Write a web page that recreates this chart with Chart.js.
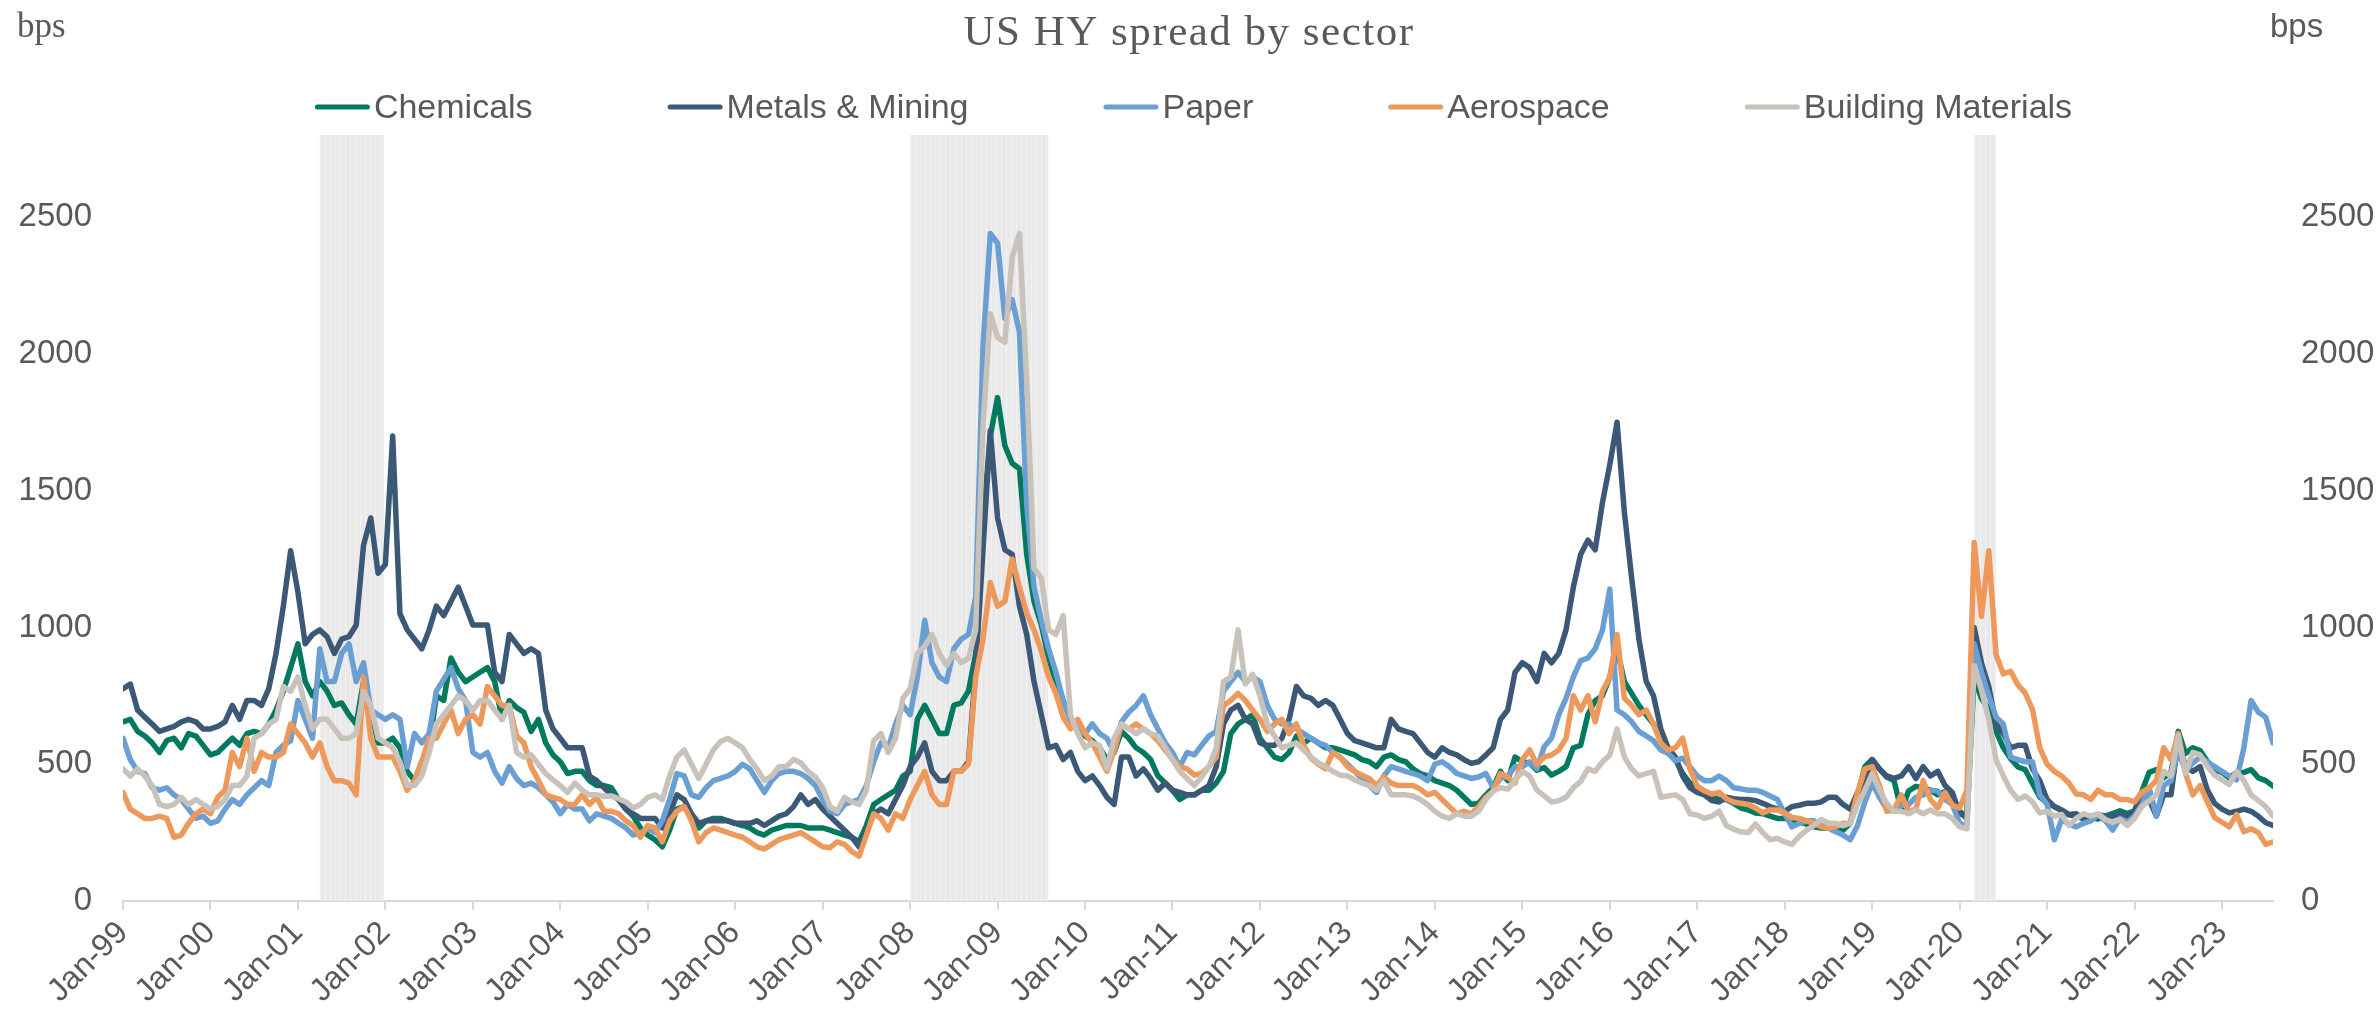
<!DOCTYPE html>
<html>
<head>
<meta charset="utf-8">
<title>US HY spread by sector</title>
<script src="https://cdn.jsdelivr.net/npm/chart.js@4.4.0/dist/chart.umd.min.js"></script>
<style>
  html, body { margin: 0; padding: 0; background: #ffffff; }
  #wrap { width: 2379px; height: 1019px; position: relative; }
</style>
</head>
<body>
<div id="wrap"><canvas id="chartSpread"></canvas></div>
<script>
// Monthly spreads (bps), Jan-99 .. Aug-23
const startYear = 1999;

const chemicals = [
  655, 664, 620, 603, 578, 543, 586, 595, 560, 612, 603, 569,
  534, 543, 569, 595, 569, 612, 620, 612, 647, 698, 767, 853,
  940, 802, 750, 802, 767, 715, 724, 681, 647, 802, 698, 578,
  578, 595, 560, 474, 440, 509, 560, 750, 733, 888, 836, 802,
  819, 836, 853, 802, 664, 733, 707, 690, 620, 664, 578, 534,
  509, 466, 474, 474, 440, 422, 422, 414, 371, 336, 310, 267,
  241, 224, 198, 259, 336, 345, 302, 267, 293, 302, 302, 293,
  284, 276, 267, 250, 241, 259, 267, 276, 276, 276, 267, 267,
  267, 259, 250, 241, 233, 216, 276, 353, 371, 388, 405, 457,
  474, 664, 715, 664, 612, 612, 715, 724, 767, 905, 1388, 1700,
  1840, 1664, 1600, 1580, 1267, 1095, 1009, 888, 802, 733, 664, 647,
  603, 586, 560, 517, 543, 620, 595, 560, 543, 517, 457, 431,
  405, 371, 388, 388, 405, 405, 431, 474, 612, 647, 664, 681,
  595, 560, 526, 517, 543, 603, 578, 595, 578, 560, 560, 552,
  543, 534, 517, 509, 491, 526, 534, 517, 509, 483, 466, 457,
  440, 431, 422, 405, 379, 353, 357, 388, 414, 474, 440, 526,
  509, 505, 478, 488, 460, 474, 491, 560, 569, 681, 733, 750,
  819, 922, 802, 759, 715, 681, 647, 586, 555, 517, 466, 431,
  419, 402, 384, 371, 371, 357, 340, 333, 322, 319, 310, 302,
  302, 298, 288, 281, 271, 267, 267, 264, 259, 284, 388, 491,
  517, 483, 453, 440, 330, 402, 419, 414, 405, 388, 400, 380,
  330, 300, 820, 740, 700, 620, 560, 520, 490, 480, 430, 380,
  360, 345, 330, 315, 310, 300, 305, 300, 310, 320, 330, 320,
  330, 400, 470, 480, 450, 470, 620, 540, 560, 550, 510, 480,
  470, 450, 470, 470, 480, 450, 440, 420
];

const metalsMining = [
  776, 793, 698, 672, 647, 620, 629, 638, 655, 664, 655, 629,
  629, 638, 655, 715, 664, 733, 733, 715, 776, 905, 1078, 1280,
  1129, 940, 974, 991, 966, 905, 957, 966, 1009, 1300, 1400, 1198,
  1230, 1700, 1050, 991, 957, 922, 991, 1078, 1043, 1095, 1147, 1078,
  1009, 1009, 1009, 836, 802, 974, 940, 905, 922, 905, 698, 629,
  595, 560, 560, 560, 457, 440, 414, 388, 371, 336, 319, 302,
  302, 302, 267, 319, 388, 371, 319, 284, 293, 293, 293, 293,
  284, 284, 284, 293, 276, 293, 310, 319, 345, 388, 353, 371,
  336, 310, 284, 259, 233, 198, 250, 319, 336, 319, 371, 422,
  491, 526, 578, 474, 440, 440, 474, 474, 509, 850, 1284, 1720,
  1400, 1284, 1267, 1078, 974, 802, 681, 560, 569, 517, 543, 474,
  440, 457, 422, 379, 353, 526, 526, 457, 483, 448, 405, 431,
  405, 397, 388, 388, 405, 422, 491, 647, 698, 715, 664, 647,
  578, 569, 569, 595, 664, 784, 750, 741, 715, 733, 715, 664,
  612, 586, 578, 569, 560, 560, 664, 629, 620, 612, 578, 543,
  526, 560, 543, 534, 517, 503, 509, 534, 560, 664, 698, 836,
  871, 853, 802, 905, 871, 905, 991, 1147, 1267, 1319, 1284, 1457,
  1595, 1750, 1422, 1181, 957, 802, 750, 629, 560, 526, 457, 414,
  397, 388, 367, 362, 379, 374, 371, 371, 367, 357, 345, 336,
  328, 345, 350, 357, 357, 362, 379, 379, 353, 336, 397, 414,
  517, 483, 457, 448, 457, 491, 448, 491, 457, 474, 422, 397,
  319, 310, 1000, 870, 784, 647, 612, 560, 569, 569, 483, 440,
  371, 345, 333, 316, 319, 302, 302, 316, 310, 310, 319, 310,
  328, 379, 371, 310, 388, 388, 586, 491, 474, 491, 405, 357,
  336, 322, 328, 336, 328, 310, 286, 276
];

const paper = [
  595, 517, 474, 466, 414, 405, 414, 388, 371, 336, 302, 310,
  284, 293, 336, 371, 353, 388, 414, 440, 422, 543, 569, 586,
  733, 664, 595, 922, 802, 802, 905, 940, 802, 871, 698, 681,
  664, 681, 664, 491, 612, 578, 612, 767, 810, 853, 776, 733,
  543, 526, 543, 474, 431, 491, 448, 422, 431, 414, 388, 362,
  319, 353, 336, 336, 293, 319, 310, 302, 284, 267, 241, 250,
  267, 250, 293, 371, 466, 457, 388, 379, 414, 440, 448, 457,
  474, 500, 483, 440, 397, 440, 466, 474, 474, 466, 448, 422,
  371, 328, 319, 353, 362, 371, 422, 509, 578, 560, 647, 715,
  681, 819, 1026, 871, 819, 802, 922, 957, 974, 1112, 2026, 2440,
  2405, 2129, 2198, 2080, 1450, 1147, 1026, 922, 836, 733, 664, 629,
  612, 647, 612, 595, 543, 655, 690, 715, 750, 681, 629, 578,
  543, 491, 543, 534, 569, 603, 620, 767, 802, 836, 802, 819,
  802, 715, 664, 647, 647, 629, 612, 595, 578, 569, 543, 526,
  500, 474, 448, 422, 397, 457, 491, 483, 474, 466, 457, 440,
  500, 509, 491, 466, 457, 448, 453, 466, 414, 448, 457, 491,
  491, 509, 483, 564, 595, 681, 741, 819, 879, 888, 922, 991,
  1140, 698, 681, 655, 620, 603, 586, 552, 540, 512, 522, 491,
  457, 440, 440, 457, 440, 414, 410, 405, 405, 397, 384, 371,
  319, 271, 284, 293, 293, 276, 267, 253, 241, 224, 276, 362,
  431, 379, 336, 328, 350, 353, 379, 388, 405, 402, 371, 353,
  284, 271, 940, 836, 750, 672, 647, 526, 517, 509, 509, 388,
  353, 224, 298, 281, 271, 284, 293, 316, 293, 259, 302, 288,
  310, 353, 414, 310, 422, 440, 552, 474, 505, 526, 509, 491,
  474, 457, 443, 560, 733, 690, 672, 578
];

const aerospace = [
  397, 336, 319, 302, 302, 310, 302, 233, 241, 284, 319, 336,
  319, 379, 405, 543, 491, 595, 474, 543, 526, 526, 543, 647,
  612, 578, 526, 578, 491, 440, 440, 431, 388, 819, 595, 526,
  526, 526, 474, 405, 440, 509, 595, 595, 647, 698, 612, 664,
  681, 647, 784, 750, 715, 715, 603, 578, 491, 440, 388, 379,
  371, 353, 353, 388, 353, 379, 328, 328, 319, 293, 276, 233,
  276, 267, 216, 293, 328, 345, 293, 216, 250, 267, 259, 250,
  241, 233, 216, 198, 190, 207, 224, 233, 241, 250, 233, 216,
  198, 195, 216, 207, 181, 164, 241, 319, 302, 259, 319, 302,
  371, 422, 474, 388, 353, 353, 474, 474, 500, 819, 957, 1164,
  1078, 1095, 1250, 1147, 1052, 991, 914, 819, 759, 672, 629, 664,
  612, 578, 526, 474, 552, 647, 629, 647, 629, 612, 586, 552,
  517, 491, 483, 460, 466, 491, 526, 715, 733, 759, 733, 698,
  664, 620, 647, 664, 612, 647, 569, 522, 500, 483, 543, 526,
  491, 474, 460, 448, 422, 453, 431, 422, 422, 422, 409, 388,
  397, 371, 345, 319, 328, 319, 345, 379, 402, 466, 453, 431,
  517, 552, 500, 526, 534, 552, 595, 750, 698, 750, 655, 767,
  819, 974, 741, 715, 681, 698, 647, 578, 552, 560, 595, 483,
  419, 402, 391, 397, 374, 362, 357, 353, 340, 322, 333, 333,
  322, 305, 302, 293, 284, 271, 267, 271, 284, 284, 397, 483,
  491, 422, 328, 333, 388, 328, 336, 440, 371, 340, 397, 350,
  340, 405, 1310, 1040, 1280, 900, 830, 840, 790, 760, 700, 560,
  500, 474, 457, 431, 391, 388, 371, 405, 388, 388, 371, 371,
  362, 397, 414, 440, 560, 517, 612, 466, 388, 422, 362, 305,
  288, 271, 316, 253, 264, 250, 207, 216
];

const buildingMaterials = [
  483, 457, 483, 457, 422, 353, 345, 353, 379, 353, 371, 353,
  336, 345, 371, 422, 422, 457, 595, 612, 647, 664, 784, 767,
  819, 715, 629, 664, 664, 629, 595, 595, 612, 767, 715, 595,
  578, 560, 509, 422, 422, 457, 543, 647, 681, 715, 750, 733,
  698, 733, 733, 698, 664, 715, 543, 526, 534, 500, 466, 443,
  422, 397, 431, 405, 388, 388, 383, 384, 374, 362, 340, 353,
  379, 388, 371, 457, 526, 552, 500, 448, 500, 552, 583, 595,
  578, 560, 517, 483, 440, 457, 491, 491, 517, 505, 474, 453,
  414, 345, 328, 379, 362, 353, 405, 586, 612, 543, 595, 741,
  776, 905, 931, 974, 905, 862, 905, 871, 888, 991, 1733, 2147,
  2060, 2043, 2353, 2440, 1900, 1216, 1181, 991, 974, 1043, 681, 612,
  560, 578, 569, 483, 595, 647, 629, 612, 629, 612, 603, 560,
  517, 474, 448, 422, 453, 491, 560, 802, 819, 991, 793, 828,
  750, 647, 603, 560, 569, 578, 552, 526, 505, 491, 474, 460,
  457, 443, 431, 422, 405, 440, 388, 388, 388, 384, 371, 353,
  328, 310, 302, 319, 310, 310, 328, 371, 402, 414, 409, 440,
  474, 457, 405, 384, 362, 367, 379, 414, 436, 483, 474, 509,
  534, 629, 526, 483, 457, 466, 474, 379, 384, 388, 371, 319,
  314, 302, 310, 328, 276, 262, 253, 250, 281, 250, 224, 229,
  216, 207, 236, 259, 276, 298, 284, 284, 276, 284, 353, 405,
  466, 405, 357, 328, 328, 319, 333, 319, 333, 319, 319, 302,
  271, 264, 860, 770, 664, 517, 457, 405, 371, 384, 362, 322,
  328, 310, 316, 276, 302, 319, 310, 319, 298, 288, 298, 276,
  302, 345, 367, 388, 474, 457, 603, 466, 543, 534, 491, 460,
  443, 426, 474, 440, 388, 367, 345, 310
];

const seriesNames = ["Chemicals", "Metals & Mining", "Paper", "Aerospace", "Building Materials"];
const seriesColors = ["#007a5e", "#3b5877", "#6a9fd3", "#ee995c", "#c9c2bb"];

const yearTicks = [
  "Jan-99", "Jan-00", "Jan-01", "Jan-02", "Jan-03", "Jan-04", "Jan-05", "Jan-06",
  "Jan-07", "Jan-08", "Jan-09", "Jan-10", "Jan-11", "Jan-12", "Jan-13", "Jan-14",
  "Jan-15", "Jan-16", "Jan-17", "Jan-18", "Jan-19", "Jan-20", "Jan-21", "Jan-22", "Jan-23"
];
const yTicks = [0, 500, 1000, 1500, 2000, 2500];

// shaded recession periods, in decimal years
const recessions = [[2001.25, 2001.98], [2008.0, 2009.58], [2020.17, 2020.415]];

const textColor = "#595959";
const sans = '"Liberation Sans", Arial, sans-serif';
const serif = '"Liberation Serif", "Times New Roman", serif';

Chart.defaults.font.family = sans;

const toPoints = arr => arr.map((v, i) => ({ x: startYear + i / 12, y: v }));
const lastX = startYear + (chemicals.length - 1) / 12;

// Grey bars for recessions, drawn behind the lines
const recessionBands = {
  id: "recessionBands",
  beforeDatasetsDraw(chart) {
    const { ctx, chartArea, scales } = chart;
    const x = scales.x;
    ctx.save();
    recessions.forEach(([a, b]) => {
      const x0 = x.getPixelForValue(a);
      const x1 = x.getPixelForValue(b);
      ctx.fillStyle = "#e9e9e9";
      ctx.fillRect(x0, chartArea.top, x1 - x0, chartArea.bottom - chartArea.top);
      // thin lighter stripes, like the weekly columns in the original
      ctx.strokeStyle = "#f2f2f2";
      ctx.lineWidth = 1;
      for (let w = a; w < b; w += 3 / 52) {
        const px = Math.round(x.getPixelForValue(w)) + 0.5;
        ctx.beginPath();
        ctx.moveTo(px, chartArea.top);
        ctx.lineTo(px, chartArea.bottom);
        ctx.stroke();
      }
    });
    ctx.restore();
  }
};

// Title, "bps" unit labels and the legend row
const headerText = {
  id: "headerText",
  afterDraw(chart) {
    const { ctx } = chart;
    ctx.save();
    ctx.fillStyle = textColor;
    ctx.textBaseline = "alphabetic";

    ctx.font = "43px " + serif;
    ctx.textAlign = "center";
    if ("letterSpacing" in ctx) ctx.letterSpacing = "1.5px";
    ctx.fillText("US HY spread by sector", 1189, 45);
    if ("letterSpacing" in ctx) ctx.letterSpacing = "0px";

    ctx.textAlign = "left";
    ctx.font = "35px " + serif;
    ctx.fillText("bps", 17, 37);
    ctx.font = "33px " + sans;
    ctx.fillText("bps", 2270, 37);

    // legend
    ctx.font = "34px " + sans;
    const swatch = 55, textGap = 4, itemGap = 135;
    const widths = seriesNames.map(n => ctx.measureText(n).width);
    const total = widths.reduce((s, w) => s + swatch + textGap + w, 0) + itemGap * (seriesNames.length - 1);
    let cx = 1193.5 - total / 2;
    seriesNames.forEach((name, i) => {
      ctx.strokeStyle = seriesColors[i];
      ctx.lineWidth = 5;
      ctx.lineCap = "round";
      ctx.beginPath();
      ctx.moveTo(cx + 2.5, 107);
      ctx.lineTo(cx + swatch - 2.5, 107);
      ctx.stroke();
      ctx.fillText(name, cx + swatch + textGap, 118);
      cx += swatch + textGap + widths[i] + itemGap;
    });
    ctx.restore();
  }
};

const series = [chemicals, metalsMining, paper, aerospace, buildingMaterials];

new Chart(document.getElementById("chartSpread"), {
  type: "line",
  data: {
    datasets: series.map((arr, i) => ({
      label: seriesNames[i],
      data: toPoints(arr),
      borderColor: seriesColors[i],
      backgroundColor: seriesColors[i],
      borderWidth: 5.5,
      pointRadius: 0,
      tension: 0,
      borderJoinStyle: "round",
      borderCapStyle: "round",
      order: series.length - i
    }))
  },
  options: {
    responsive: true,
    maintainAspectRatio: false,
    animation: false,
    layout: { padding: { top: 135, left: 0, right: 0, bottom: 0 } },
    plugins: {
      legend: { display: false },
      tooltip: { enabled: false },
      title: { display: false }
    },
    scales: {
      x: {
        type: "linear",
        min: startYear,
        max: lastX,
        afterBuildTicks: axis => {
          axis.ticks = yearTicks.map((_, i) => ({ value: startYear + i }));
        },
        afterFit: axis => { axis.height = 118; },
        grid: {
          display: true,
          drawOnChartArea: false,
          drawTicks: true,
          tickLength: 9,
          color: "#d9d9d9",
          lineWidth: 2
        },
        border: { display: true, color: "#d9d9d9", width: 2 },
        ticks: {
          color: textColor,
          font: { size: 32 },
          minRotation: 45,
          maxRotation: 45,
          autoSkip: false,
          padding: 4,
          callback: (value, index) => yearTicks[index]
        }
      },
      y: {
        position: "left",
        min: 0,
        max: 2800,
        afterBuildTicks: axis => { axis.ticks = yTicks.map(v => ({ value: v })); },
        afterFit: axis => { axis.width = 123; },
        grid: { display: false, drawTicks: false },
        border: { display: false },
        ticks: { color: textColor, font: { size: 33 }, padding: 31, callback: v => String(v) }
      },
      y2: {
        position: "right",
        display: true,
        min: 0,
        max: 2800,
        afterBuildTicks: axis => { axis.ticks = yTicks.map(v => ({ value: v })); },
        afterFit: axis => { axis.width = 106; },
        grid: { display: false, drawTicks: false },
        border: { display: false },
        ticks: { color: textColor, font: { size: 33 }, padding: 28, callback: v => String(v) }
      }
    }
  },
  plugins: [recessionBands, headerText]
});
</script>
</body>
</html>
